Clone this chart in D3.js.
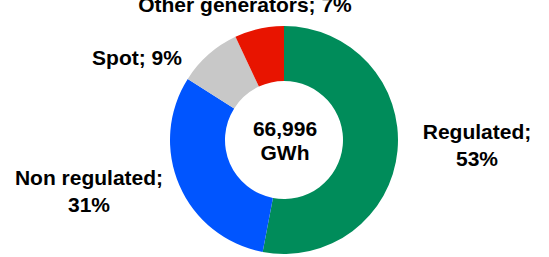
<!DOCTYPE html>
<html>
<head>
  <meta charset="utf-8">
  <script src="https://d3js.org/d3.v7.min.js"></script>
  <style>
    body { margin: 0; background: #fff; }
    svg { display: block; }
    text { font-family: "Liberation Sans", Arial, sans-serif; font-weight: bold; fill: #000; }
  </style>
</head>
<body>
  <svg></svg>
  <script>
  // data
  const categories = ["Regulated", "Non regulated", "Spot", "Other generators"];
  const shares = [53, 31, 9, 7];
  const colors = ["#008c5a", "#0055ff", "#c8c8c8", "#e81400"];
  const totalLabel = ["66,996", "GWh"];

  const width = 549, height = 257;
  const cx = 284, cy = 140;
  const outerR = 114, innerR = 59;
  const fontSize = 21;

  // where each label sits (lines of text, centered)
  const labelPos = {
    "Regulated": { x: 477, y: 139, lines: 2 },
    "Non regulated": { x: 89, y: 185, lines: 2 },
    "Spot": { x: 137, y: 65, lines: 1 },
    "Other generators": { x: 245, y: 12, lines: 1 }
  };
  const lineGap = 27;

  const svg = d3.select("svg").attr("width", width).attr("height", height);

  const data = categories.map((c, i) => ({ name: c, value: shares[i], color: colors[i] }));

  const pie = d3.pie().sort(null).value(d => d.value);
  const arc = d3.arc().innerRadius(innerR).outerRadius(outerR);

  const g = svg.append("g").attr("transform", "translate(" + cx + "," + cy + ")");
  g.selectAll("path")
    .data(pie(data))
    .join("path")
    .attr("d", arc)
    .attr("fill", d => d.data.color);

  // center total
  g.selectAll("text.total")
    .data(totalLabel)
    .join("text")
    .attr("class", "total")
    .attr("text-anchor", "middle")
    .attr("font-size", fontSize)
    .attr("x", 1)
    .attr("y", (d, i) => -4 + i * 24)
    .text(d => d);

  // slice labels
  data.forEach(d => {
    const p = labelPos[d.name];
    const t = svg.append("text")
      .attr("text-anchor", "middle")
      .attr("font-size", fontSize)
      .attr("x", p.x)
      .attr("y", p.y);
    if (p.lines == 2) {
      t.append("tspan").attr("x", p.x).text(d.name + ";");
      t.append("tspan").attr("x", p.x).attr("dy", lineGap).text(d.value + "%");
    } else {
      t.text(d.name + "; " + d.value + "%");
    }
  });
  </script>
</body>
</html>
